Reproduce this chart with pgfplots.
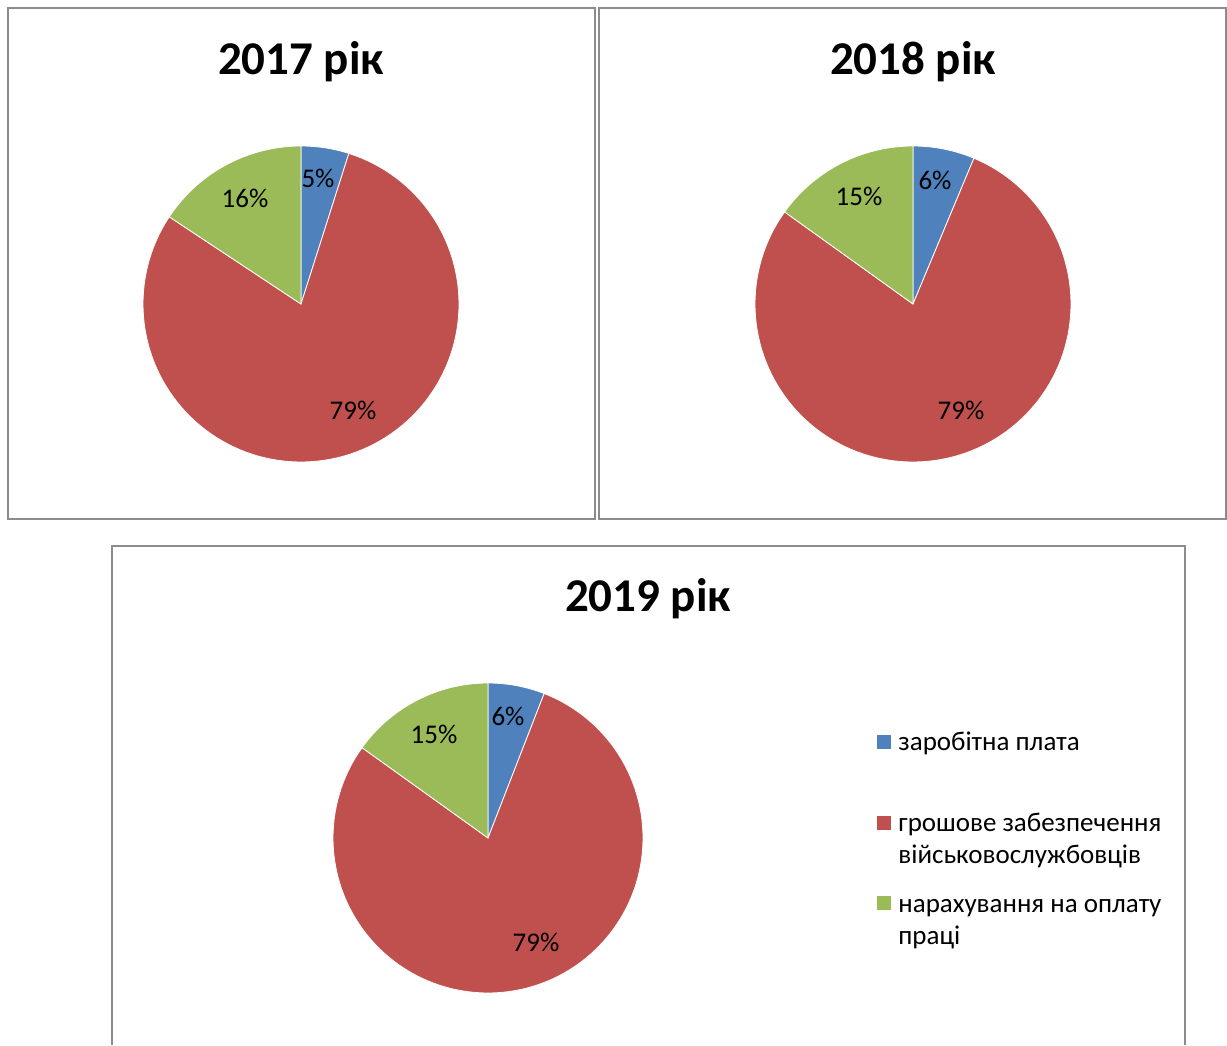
\documentclass[border=0pt]{standalone}
\usepackage{pgfplots}
\pgfplotsset{compat=1.18}
\usepackage{fontspec}
\setmainfont{Carlito}
\definecolor{cblue}{HTML}{4F81BD}
\definecolor{cred}{HTML}{C0504D}
\definecolor{cgreen}{HTML}{9BBB59}
\definecolor{cframe}{HTML}{8C8C8C}
% one pie: #1 blue, #2 red, #3 green (percent)
\newcommand{\pieslices}[3]{%
  \pgfmathsetmacro{\aB}{90-3.6*#1}%
  \pgfmathsetmacro{\aC}{\aB-3.6*#2}%
  \pgfmathsetmacro{\aD}{\aC-3.6*#3}%
  \addplot[fill=cblue, draw=white, line width=0.4pt, domain=\aB:90, samples=20] ({cos(x)},{sin(x)}) -- (axis cs:0,0) -- cycle;
  \addplot[fill=cred, draw=white, line width=0.4pt, domain=\aC:\aB, samples=120] ({cos(x)},{sin(x)}) -- (axis cs:0,0) -- cycle;
  \addplot[fill=cgreen, draw=white, line width=0.4pt, domain=\aD:\aC, samples=30] ({cos(x)},{sin(x)}) -- (axis cs:0,0) -- cycle;
}
\pgfplotsset{pieax/.style={hide axis, scale only axis, xmin=-1, xmax=1, ymin=-1, ymax=1, anchor=center, clip=false}}
\begin{document}
\begin{tikzpicture}[x=0.5pt,y=0.5pt]
\useasboundingbox (0,0) rectangle (1227,1045);
% frames
\draw[cframe, line width=1pt] (8,1037) rectangle (595,526);
\draw[cframe, line width=1pt] (599,1037) rectangle (1226,526);
\draw[cframe, line width=1pt] (112,0) -- (112,499) -- (1185,499) -- (1185,0);
% titles
\node[font=\fontsize{23.5}{28}\selectfont\bfseries] at (301,983) {2017 рік};
\node[font=\fontsize{23.5}{28}\selectfont\bfseries] at (913,983) {2018 рік};
\node[font=\fontsize{23.5}{28}\selectfont\bfseries] at (648,446) {2019 рік};
% pies
\begin{axis}[pieax, width=158pt, height=158pt, at={(150.5pt,370.5pt)}]
\pieslices{4.9}{79.4}{15.7}
\end{axis}
\begin{axis}[pieax, width=158pt, height=158pt, at={(456.5pt,370.5pt)}]
\pieslices{6.3}{78.6}{15.1}
\end{axis}
\begin{axis}[pieax, width=155pt, height=155pt, at={(244pt,103.5pt)}]
\pieslices{5.9}{79.0}{15.1}
\end{axis}
% data labels
\begin{scope}[every node/.style={font=\fontsize{13.5}{16}\selectfont}]
\node at (318,867) {5\%};
\node at (245,847) {16\%};
\node at (353,635) {79\%};
\node at (935,865) {6\%};
\node at (859,849) {15\%};
\node at (961,635) {79\%};
\node at (508,329) {6\%};
\node at (434,311) {15\%};
\node at (536,103) {79\%};
% legend
\fill[cblue] (877,296) rectangle (891,310);
\fill[cred] (877,215) rectangle (891,229);
\fill[cgreen] (877,135) rectangle (891,149);
\node[anchor=base west, inner sep=0pt] at (898,294) {заробітна плата};
\node[anchor=base west, inner sep=0pt] at (898,213) {грошове забезпечення};
\node[anchor=base west, inner sep=0pt] at (898,181) {військовослужбовців};
\node[anchor=base west, inner sep=0pt] at (898,133) {нарахування на оплату};
\node[anchor=base west, inner sep=0pt] at (898,100) {праці};
\end{scope}
\end{tikzpicture}
\end{document}
